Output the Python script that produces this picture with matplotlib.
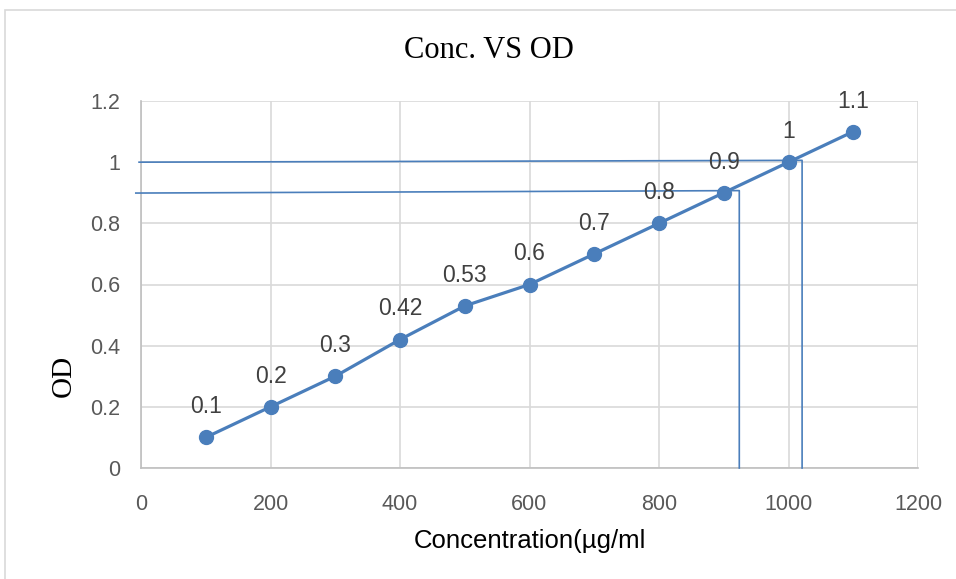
import matplotlib.pyplot as plt
from matplotlib.patches import Rectangle

conc = [100, 200, 300, 400, 500, 600, 700, 800, 900, 1000, 1100]
od = [0.1, 0.2, 0.3, 0.42, 0.53, 0.6, 0.7, 0.8, 0.9, 1, 1.1]
od_labels = ['0.1', '0.2', '0.3', '0.42', '0.53', '0.6', '0.7', '0.8', '0.9', '1', '1.1']

# hand-drawn guide lines (read-off lines for OD 1.0 and 0.9)
guide_upper_x = [-3, 1021, 1021]
guide_upper_y = [1.0, 1.006, 0.0]
guide_lower_x = [-8, 924, 924]
guide_lower_y = [0.899, 0.907, 0.0]

xticks = [0, 200, 400, 600, 800, 1000, 1200]
yticks = [0, 0.2, 0.4, 0.6, 0.8, 1.0, 1.2]
ytick_labels = ['0', '0.2', '0.4', '0.6', '0.8', '1', '1.2']

blue = '#4a7ebb'
grid = '#d9d9d9'
tick_col = '#595959'

fig = plt.figure(figsize=(9.56, 5.79), dpi=100)
ax = fig.add_axes([141 / 956, 1 - 468 / 579, (918 - 141) / 956, (468 - 101) / 579])

# chart frame
fig.patches.append(Rectangle((5 / 956, -0.1), 1.1, 1 - 10 / 579 + 0.1,
                             transform=fig.transFigure, fill=False,
                             edgecolor=grid, linewidth=1.2))

ax.plot(guide_upper_x, guide_upper_y, color=blue, lw=1.2, clip_on=False, zorder=3)
ax.plot(guide_lower_x, guide_lower_y, color=blue, lw=1.2, clip_on=False, zorder=3)

ax.plot(conc, od, color=blue, lw=2.3, marker='o', markersize=10, zorder=4)
for x, y, t in zip(conc, od, od_labels):
    ax.annotate(t, (x, y), xytext=(0, 22), textcoords='offset points',
                ha='center', va='center', fontsize=16.5, color='#404040',
                family='Liberation Sans', annotation_clip=False)

ax.set_xlim(0, 1200)
ax.set_ylim(0, 1.2)
ax.set_xticks(xticks)
ax.set_xticklabels([str(v) for v in xticks])
ax.set_yticks(yticks)
ax.set_yticklabels(ytick_labels)
ax.tick_params(length=0, labelsize=15.5, labelcolor=tick_col)
ax.tick_params(axis='y', pad=15)
ax.tick_params(axis='x', pad=18.5)
for lab in ax.get_xticklabels() + ax.get_yticklabels():
    lab.set_family('Liberation Sans')

ax.grid(True, color=grid, lw=1.2)
ax.set_axisbelow(True)
for s in ['top', 'right']:
    ax.spines[s].set_visible(False)
for s in ['bottom', 'left']:
    ax.spines[s].set_color('#bfbfbf')
    ax.spines[s].set_linewidth(1.2)

fig.text(489 / 956, 1 - 51 / 579, 'Conc. VS OD', ha='center', va='center',
         fontsize=22, family='Liberation Serif')
fig.text(64 / 956, 1 - 376 / 579, 'OD', ha='center', va='center', rotation=90,
         fontsize=21, family='Liberation Serif')
fig.text(530 / 956, 1 - 541 / 579, 'Concentration(µg/ml', ha='center', va='center',
         fontsize=18.5, family='Liberation Sans')

fig.savefig('out.png', dpi=100)
